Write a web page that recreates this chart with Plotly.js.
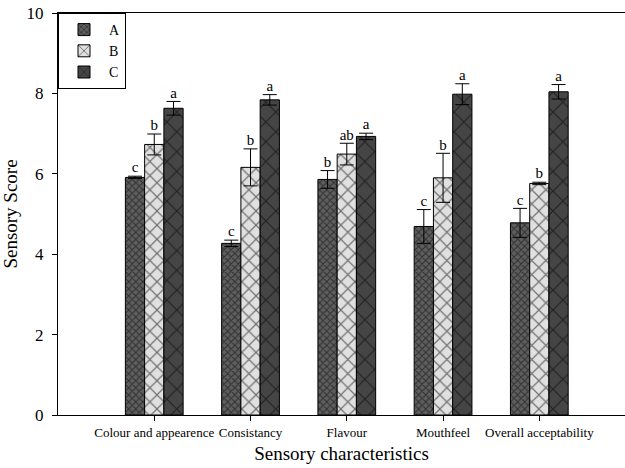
<!DOCTYPE html>
<html><head><meta charset="utf-8">
<script src="https://cdn.plot.ly/plotly-3.0.1.min.js"></script>
<style>body{margin:0;background:#fff}#c{width:625px;height:468px}</style>
</head><body><div id="c"></div>
<script>
const categories = ["Colour and appearence","Consistancy","Flavour","Mouthfeel","Overall acceptability"];
const seriesNames = ["A","B","C"];
const valuesA = [5.91, 4.27, 5.86, 4.69, 4.78];
const valuesB = [6.73, 6.16, 6.49, 5.90, 5.76];
const valuesC = [7.63, 7.84, 6.93, 7.98, 8.04];
const errA = [0.03, 0.08, 0.22, 0.42, 0.36];
const errB = [0.26, 0.46, 0.27, 0.61, 0.03];
const errC = [0.17, 0.13, 0.08, 0.26, 0.18];
const lettersA = ["c","c","b","c","c"];
const lettersB = ["b","b","ab","b","b"];
const lettersC = ["a","a","a","a","a"];

const xs = categories.map((c,i)=>i+1);
const vals = [valuesA, valuesB, valuesC];
const errs = [errA, errB, errC];
const letters = [lettersA, lettersB, lettersC];
const styles = [
  {bg:"#5e5e5e", size:5, sol:0.35},
  {bg:"#e0e0e0", size:10, sol:0.22},
  {bg:"#454545", size:14, sol:0.16}
];
const barW = 0.2;
const offs = [-barW, 0, barW];
const FF = "Liberation Serif";
const traces = [];
seriesNames.forEach((n,k)=>{
  traces.push({
    type:"bar", name:n, x:xs, y:vals[k], width:barW, offset:offs[k]-barW/2,
    marker:{color:styles[k].bg, line:{color:"#000", width:1},
      pattern:{shape:"x", bgcolor:styles[k].bg, fgcolor:"#000", size:styles[k].size, solidity:styles[k].sol, fillmode:"overlay"}},
    error_y:{type:"data", array:errs[k], visible:true, color:"#000", thickness:1, width:7},
    hoverinfo:"skip"
  });
});
seriesNames.forEach((n,k)=>{
  traces.push({
    type:"scatter", mode:"text", showlegend:false,
    x:xs.map(x=>x+offs[k]), y:vals[k].map((v,i)=>v+errs[k][i]),
    text:letters[k], textposition:"top center",
    textfont:{family:FF, size:15, color:"#000"},
    hoverinfo:"skip"
  });
});
const layout = {
  width:625, height:468,
  margin:{l:58, r:0, t:13, b:53},
  paper_bgcolor:"#fff", plot_bgcolor:"#fff",
  font:{family:FF, color:"#000"},
  barmode:"overlay",
  showlegend:true,
  legend:{x:0, y:1, xanchor:"left", yanchor:"top", bordercolor:"#000", borderwidth:1, bgcolor:"#fff",
    font:{family:FF, size:14, color:"#000"}, tracegroupgap:0, itemwidth:40},
  xaxis:{range:[0, 5.89], tickvals:xs, ticktext:categories, ticks:"outside", ticklen:5, tickcolor:"#000",
    showline:true, linecolor:"#000", linewidth:1, mirror:true, showgrid:false, zeroline:false,
    tickfont:{family:FF, size:13, color:"#000"},
    title:{text:"Sensory characteristics", font:{family:FF, size:19, color:"#000"}, standoff:8}},
  yaxis:{range:[0,10], tickvals:[0,2,4,6,8,10], ticks:"outside", ticklen:5, tickcolor:"#000",
    showline:true, linecolor:"#000", linewidth:1, mirror:false, showgrid:false, zeroline:false,
    ticklabelstandoff:5,
    tickfont:{family:FF, size:17, color:"#000"},
    title:{text:"Sensory Score", font:{family:FF, size:19, color:"#000"}, standoff:6}}
};
Plotly.newPlot("c", traces, layout, {displayModeBar:false, staticPlot:true});
</script></body></html>
